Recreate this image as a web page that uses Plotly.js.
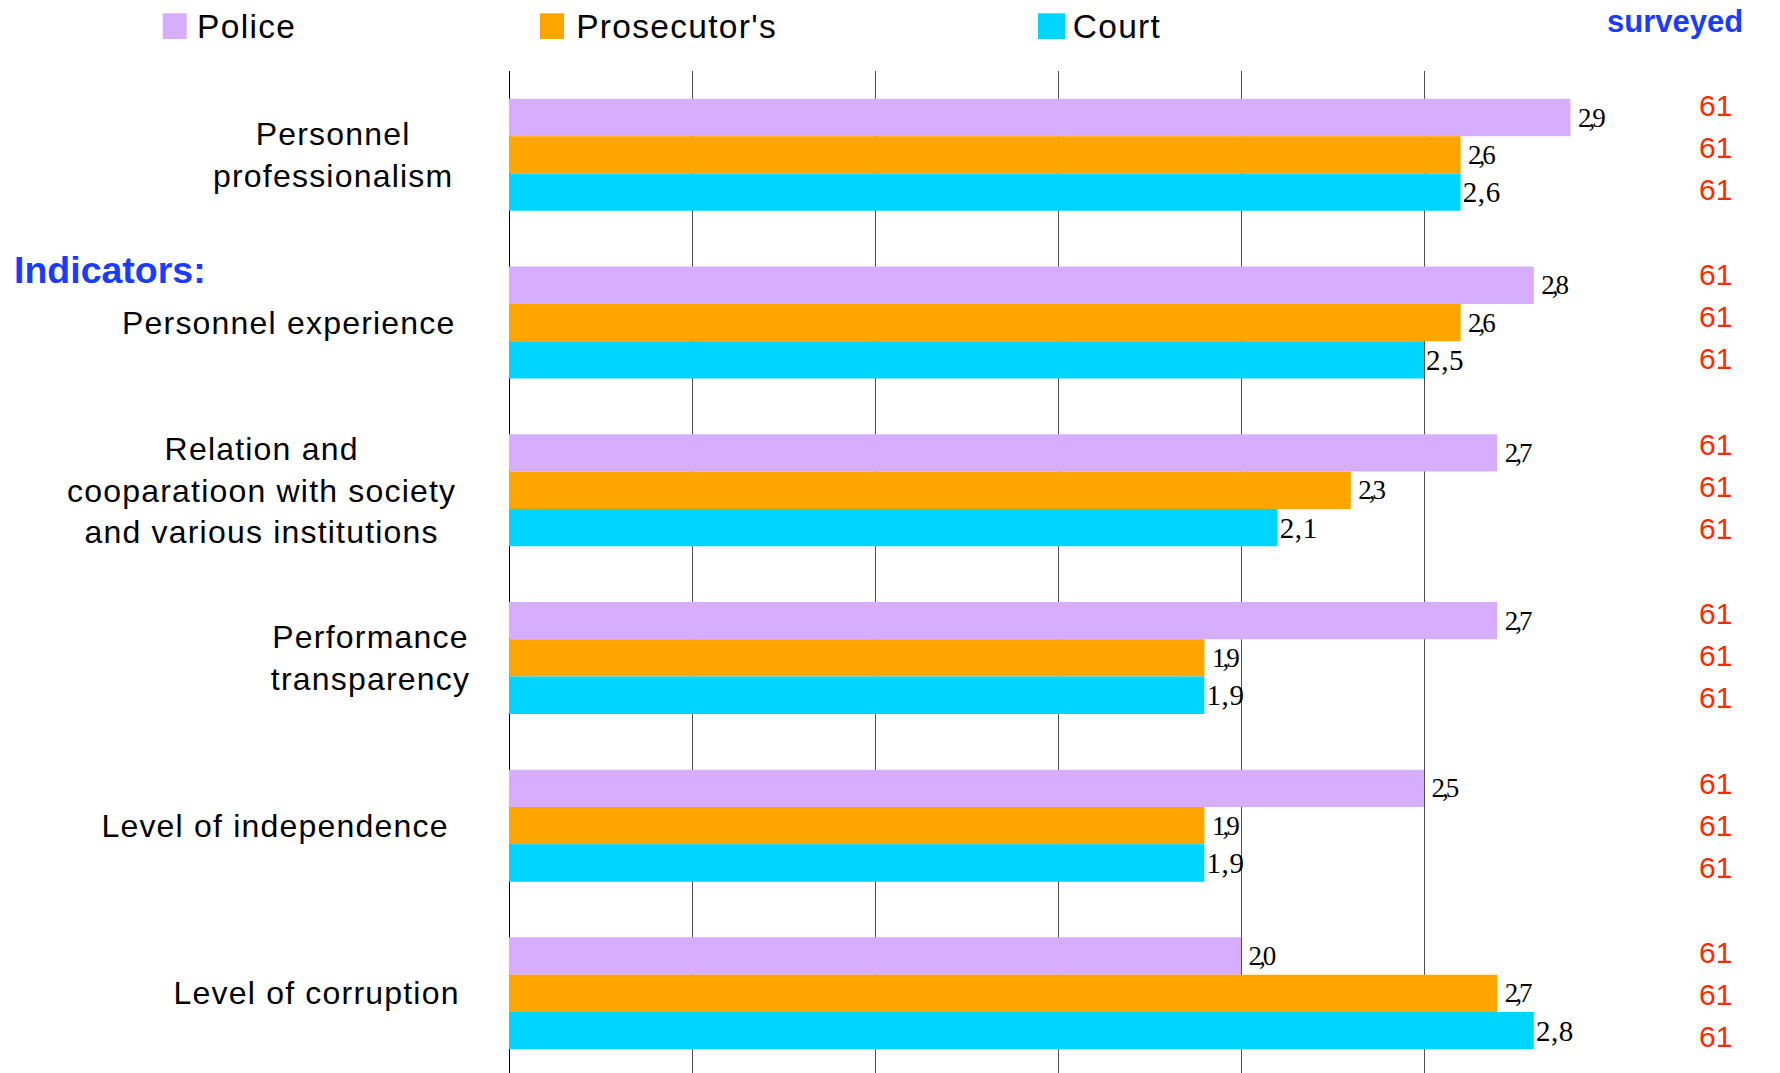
<!DOCTYPE html>
<html>
<head>
<meta charset="utf-8">
<script src="https://cdn.plot.ly/plotly-3.0.1.min.js"></script>
<style>
  html, body { margin: 0; padding: 0; background: #fff; }
  #chart { width: 1780px; height: 1073px; }
  .annotation[data-index="0"] text, .annotation[data-index="1"] text, .annotation[data-index="2"] text,
  .annotation[data-index="3"] text, .annotation[data-index="4"] text, .annotation[data-index="5"] text { letter-spacing: 1.2px; }
  .annotation[data-index="6"] text, .annotation[data-index="7"] text, .annotation[data-index="8"] text { letter-spacing: 1.3px; }
  .barlayer .trace:nth-child(1) text.bartext, .barlayer .trace:nth-child(2) text.bartext { letter-spacing: -3px; }
  .barlayer .trace:nth-child(3) text.bartext { letter-spacing: 0.6px; }
</style>
</head>
<body>
<div id="chart"></div>
<script>
// ---- data ----
const categories = [
  "Personnel professionalism",
  "Personnel experience",
  "Relation and cooparatioon with society and various institutions",
  "Performance transparency",
  "Level of independence",
  "Level of corruption"
];
const categoryLabels = [
  "Personnel<br>professionalism",
  "Personnel experience",
  "Relation and<br>cooparatioon with society<br>and various institutions",
  "Performance<br>transparency",
  "Level of independence",
  "Level of corruption"
];
const seriesNames = ["Police", "Prosecutor's", "Court"];
const police      = [2.9, 2.8, 2.7, 2.7, 2.5, 2.0];
const prosecutors = [2.6, 2.6, 2.3, 1.9, 1.9, 2.7];
const court       = [2.6, 2.5, 2.1, 1.9, 1.9, 2.8];
const surveyedPolice      = [61, 61, 61, 61, 61, 61];
const surveyedProsecutors = [61, 61, 61, 61, 61, 61];
const surveyedCourt       = [61, 61, 61, 61, 61, 61];
const headerLeft  = "Indicators:";
const headerRight = "surveyed";

// ---- styling / layout constants ----
const colors = ["#D7ADFF", "#FFA500", "#00D5FF"];
const labelSizes = [27, 27, 29];
const W = 1780, H = 1073;
const M = { l: 509, r: 173, t: 71, b: 0 };
const PW = W - M.l - M.r, PH = H - M.t - M.b;
const px = x => (x - M.l) / PW;          // pixel -> paper x
const py = y => (H - M.b - y) / PH;      // pixel -> paper y
const labelCenterX = [333, 289, 261, 370, 275, 316];
const fmt = v => v.toFixed(1).replace('.', ',');

const valueSets = [police, prosecutors, court];
const traces = valueSets.map((vals, i) => ({
  type: 'bar',
  orientation: 'h',
  name: seriesNames[i],
  y: categories,
  x: vals,
  text: vals.map(fmt),
  textposition: 'outside',
  cliponaxis: false,
  constraintext: 'none',
  textfont: { family: 'Liberation Serif, Times New Roman, serif', size: labelSizes[i], color: '#000' },
  marker: { color: colors[i], line: { width: 0 } },
  hoverinfo: 'skip',
  showlegend: false
}));

const annotations = [];
// category labels (indices 0-5)
categoryLabels.forEach((lab, i) => {
  annotations.push({
    xref: 'paper', yref: 'y', x: px(labelCenterX[i]), y: categories[i],
    xanchor: 'center', yanchor: 'middle', align: 'center', showarrow: false,
    text: lab, font: { family: 'Liberation Sans, Arial, sans-serif', size: 32, color: '#000' }
  });
});
// legend texts (indices 6-8)
const legendTextX = [199, 581.5, 1074];
seriesNames.forEach((n, i) => {
  annotations.push({
    xref: 'paper', yref: 'paper', x: px(legendTextX[i]), y: py(27),
    xanchor: 'left', yanchor: 'middle', showarrow: false, text: n,
    font: { family: 'Liberation Sans, Arial, sans-serif', size: 33.5, color: '#000' }
  });
});
// headers
annotations.push({
  xref: 'paper', yref: 'paper', x: px(12), y: py(270), xanchor: 'left', yanchor: 'middle',
  showarrow: false, text: '<b>' + headerLeft + '</b>',
  font: { family: 'Liberation Sans, Arial, sans-serif', size: 37.5, color: '#1A3CFF' }
});
annotations.push({
  xref: 'paper', yref: 'paper', x: px(1674.5), y: py(21.5), xanchor: 'center', yanchor: 'middle',
  showarrow: false, text: '<b>' + headerRight + '</b>',
  font: { family: 'Liberation Sans, Arial, sans-serif', size: 31, color: '#1A3CFF' }
});
// surveyed counts
const countSets = [surveyedPolice, surveyedProsecutors, surveyedCourt];
const unit = PH / 5.975;
countSets.forEach((arr, j) => {
  arr.forEach((n, i) => {
    const drift = (-7.4 + 1.7 * i) / unit;
    annotations.push({
      xref: 'paper', yref: 'y', x: px(1715), y: i + (j - 1) * (42 / unit) + drift,
      xanchor: 'center', yanchor: 'middle', showarrow: false, text: String(n),
      font: { family: 'Liberation Sans, Arial, sans-serif', size: 30, color: '#FF2A00' }
    });
  });
});

// legend squares
const legendSq = [[162.7, 186.7], [540, 564], [1038, 1065]];
const shapes = legendSq.map((s, i) => ({
  type: 'rect', xref: 'paper', yref: 'paper',
  x0: px(s[0]), x1: px(s[1]), y0: py(39), y1: py(13.3),
  fillcolor: colors[i], line: { width: 0 }
}));

const layout = {
  width: W, height: H,
  margin: M,
  paper_bgcolor: '#fff', plot_bgcolor: '#fff',
  barmode: 'group', bargap: 0.332, bargroupgap: 0,
  showlegend: false,
  xaxis: {
    range: [0, 3], dtick: 0.5, tick0: 0,
    showgrid: true, gridcolor: '#505050', gridwidth: 1,
    zeroline: true, zerolinecolor: '#000', zerolinewidth: 1,
    showticklabels: false, ticks: '', showline: false, fixedrange: true
  },
  yaxis: {
    type: 'category', categoryorder: 'array', categoryarray: categories,
    range: [5.475, -0.5],
    showgrid: false, zeroline: false, showticklabels: false, ticks: '', showline: false, fixedrange: true
  },
  annotations: annotations,
  shapes: shapes
};

Plotly.newPlot('chart', traces, layout, { staticPlot: true, displayModeBar: false });
</script>
</body>
</html>
